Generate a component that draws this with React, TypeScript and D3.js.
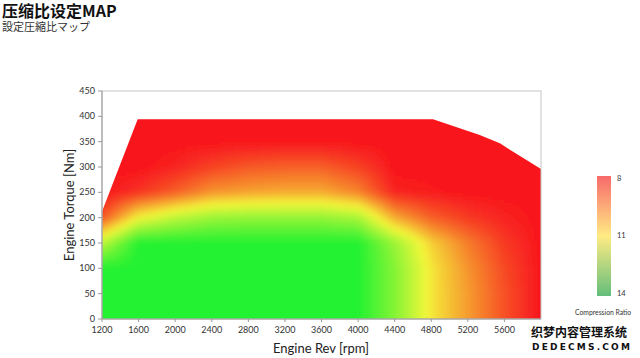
import React, { useMemo } from "react";
import * as d3 from "d3";

// ---- data ----
const rpmCols = [1200, 1600, 2000, 2400, 2800, 3200, 3600, 4000, 4400, 4800, 5200, 5600, 6000];
const torqueRows = [0, 50, 100, 150, 200, 250, 300, 350, 400];
// compression ratio per torque row (rows) and rpm column
const ratio0 = [14, 14, 14, 14, 14, 14, 14, 14, 12.6, 10.8, 9.8, 8.8, 8];
const ratio50 = [14, 14, 14, 14, 14, 14, 14, 14, 12.6, 10.8, 9.8, 8.8, 8];
const ratio100 = [14, 14, 14, 14, 14, 14, 14, 14, 12.6, 10.8, 9.7, 8.7, 8];
const ratio150 = [11.8, 14, 14, 14, 14, 14, 14, 14, 12.3, 10.5, 9.4, 8.5, 8];
const ratio200 = [8.8, 11.0, 11.8, 12.3, 12.4, 12.4, 12.4, 12.1, 10.0, 9.0, 8.5, 8.2, 8];
const ratio250 = [8, 8.4, 9.0, 9.7, 9.9, 10.0, 10.0, 9.5, 8.2, 8.1, 8, 8, 8];
const ratio300 = [8, 8, 8.2, 8.6, 8.9, 9.0, 9.0, 8.6, 8, 8, 8, 8, 8];
const ratio350 = [8, 8, 8, 8, 8, 8, 8, 8, 8, 8, 8, 8, 8];
const ratio400 = [8, 8, 8, 8, 8, 8, 8, 8, 8, 8, 8, 8, 8];
const ratioGrid = [ratio0, ratio50, ratio100, ratio150, ratio200, ratio250, ratio300, ratio350, ratio400];

// operating-range outline [rpm, torque]
const boundaryRpm = [1200, 1200, 1590, 4820, 5330, 5550, 5660, 6000, 6000];
const boundaryTorque = [0, 212, 394, 394, 363, 347, 334, 296, 0];

const xTicks = [1200, 1600, 2000, 2400, 2800, 3200, 3600, 4000, 4400, 4800, 5200, 5600];
const yTicks = [0, 50, 100, 150, 200, 250, 300, 350, 400, 450];
const legendTicks = [8, 11, 14];

const titleText = "压缩比设定MAP";
const subtitleText = "設定圧縮比マップ";
const xLabel = "Engine Rev [rpm]";
const yLabel = "Engine Torque [Nm]";
const legendLabel = "Compression Ratio";

const FONT = "Lato, 'Open Sans', sans-serif";

function interp(r: number, t: number): number {
  const bx = d3.bisectRight(rpmCols, r) - 1;
  const by = d3.bisectRight(torqueRows, t) - 1;
  const i = Math.max(0, Math.min(rpmCols.length - 2, bx));
  const j = Math.max(0, Math.min(torqueRows.length - 2, by));
  const fx = Math.max(0, Math.min(1, (r - rpmCols[i]) / (rpmCols[i + 1] - rpmCols[i])));
  const fy = Math.max(0, Math.min(1, (t - torqueRows[j]) / (torqueRows[j + 1] - torqueRows[j])));
  const a = ratioGrid[j][i], b = ratioGrid[j][i + 1];
  const c = ratioGrid[j + 1][i], d = ratioGrid[j + 1][i + 1];
  return (a * (1 - fx) + b * fx) * (1 - fy) + (c * (1 - fx) + d * fx) * fy;
}

export default function App() {
  const x = d3.scaleLinear().domain([1200, 6000]).range([102, 541]);
  const y = d3.scaleLinear().domain([0, 450]).range([319, 91]);
  const color = d3
    .scaleLinear<string>()
    .domain([8, 11, 14])
    .range(["#f8141e", "#f4f63a", "#22f232"])
    .interpolate(d3.interpolateRgb)
    .clamp(true);
  const legendY = d3.scaleLinear().domain([8, 14]).range([178, 293]);

  const outline = boundaryRpm.map((r, k) => [x(r), y(boundaryTorque[k])] as [number, number]);
  const outlinePath = (d3.line()(outline) || "") + "Z";

  const step = 3;
  const cells = useMemo(() => {
    const out: { px: number; py: number; c: string }[] = [];
    const [x0, x1] = x.range();
    const yTop = y(400) - 15;
    const yBot = y(0) + 15;
    for (let py = Math.floor(yTop); py < yBot; py += step) {
      for (let px = x0 - 15; px < x1 + 15; px += step) {
        const r = x.invert(px + step / 2);
        const t = y.invert(py + step / 2);
        out.push({ px, py, c: color(interp(r, t)) });
      }
    }
    return out;
  }, []);

  return (
    <svg
      width={640}
      height={358}
      style={{ position: "absolute", left: 0, top: 0, display: "block" }}
    >
      <rect x={0} y={0} width={640} height={358} fill="#fff" />
      <text x={2} y={17} fontFamily="'Noto Sans CJK SC', sans-serif" fontWeight={700} fontSize={16} fill="#111">
        {titleText}
      </text>
      <text x={2} y={31} fontFamily="'Noto Sans CJK JP', sans-serif" fontSize={11} fill="#333">
        {subtitleText}
      </text>

      <defs>
        <clipPath id="mapClip">
          <path d={outlinePath} />
        </clipPath>
        <filter id="smooth" filterUnits="userSpaceOnUse" x={60} y={80} width={520} height={280}>
          <feGaussianBlur stdDeviation={3} />
        </filter>
        <linearGradient id="legendGrad" x1="0" y1="0" x2="0" y2="1">
          <stop offset="0%" stopColor="#F8696B" />
          <stop offset="50%" stopColor="#FFEB84" />
          <stop offset="100%" stopColor="#63BE7B" />
        </linearGradient>
      </defs>

      {/* heat map */}
      <g clipPath="url(#mapClip)">
        <g filter="url(#smooth)" shapeRendering="crispEdges">
          {cells.map((d, k) => (
            <rect key={k} x={d.px} y={d.py} width={step} height={step} fill={d.c} />
          ))}
        </g>
      </g>

      {/* frame */}
      <rect x={x(1200)} y={y(450)} width={x(6000) - x(1200)} height={y(0) - y(450)} fill="none" stroke="#c4c4c4" strokeWidth={1} />
      <line x1={x(1200)} x2={x(1200)} y1={y(0)} y2={y(450)} stroke="#999" />
      <line x1={x(1200)} x2={x(6000)} y1={y(0)} y2={y(0)} stroke="#999" />

      {/* y axis */}
      {yTicks.map((t) => (
        <g key={"y" + t}>
          <line x1={x(1200) - 4} x2={x(1200)} y1={y(t)} y2={y(t)} stroke="#999" />
          <text x={x(1200) - 7} y={y(t)} dy="0.35em" textAnchor="end" fontFamily={FONT} fontSize={9} fill="#333">
            {t}
          </text>
        </g>
      ))}
      {/* x axis */}
      {xTicks.map((t) => (
        <g key={"x" + t}>
          <line x1={x(t)} x2={x(t)} y1={y(0)} y2={y(0) + 3} stroke="#999" />
          <text x={x(t)} y={y(0) + 14} textAnchor="middle" fontFamily={FONT} fontSize={9} fill="#333">
            {t}
          </text>
        </g>
      ))}
      <text x={321} y={353} textAnchor="middle" fontFamily={FONT} fontSize={13} fill="#222">
        {xLabel}
      </text>
      <text
        transform={`translate(74,${(y(0) + y(450)) / 2}) rotate(-90)`}
        textAnchor="middle"
        fontFamily={FONT}
        fontSize={13}
        fill="#222"
      >
        {yLabel}
      </text>

      {/* legend */}
      <rect x={597} y={176} width={14} height={120} fill="url(#legendGrad)" />
      {legendTicks.map((t) => (
        <text key={"l" + t} x={617} y={legendY(t)} dy="0.35em" fontFamily={FONT} fontSize={7.5} fill="#333">
          {t}
        </text>
      ))}
      <text x={575} y={315} fontFamily={FONT} fontSize={6.8} fill="#333">
        {legendLabel}
      </text>

      {/* watermark */}
      <text x={531} y={337} fontFamily="'Noto Sans CJK SC', sans-serif" fontWeight={700} fontSize={12} fill="#111" stroke="#fff" strokeWidth={2} paintOrder="stroke">
        织梦内容管理系统
      </text>
      <text x={532} y={350} fontFamily="'DejaVu Sans', sans-serif" fontWeight={700} fontSize={9} letterSpacing={2.2} fill="#111" stroke="#fff" strokeWidth={2} paintOrder="stroke">
        DEDECMS.COM
      </text>
    </svg>
  );
}
